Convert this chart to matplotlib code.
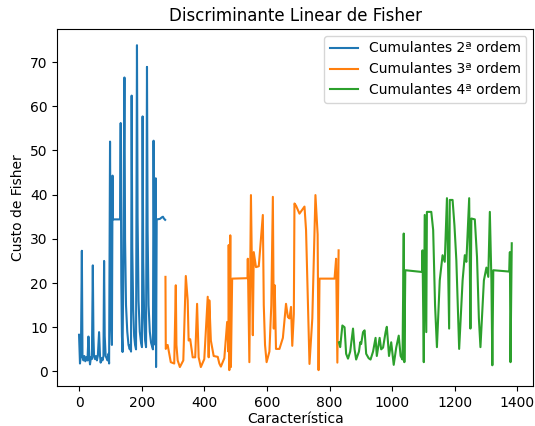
import matplotlib
matplotlib.use("Agg")
import matplotlib.pyplot as plt

blue_x = [0, 3, 6, 9, 11, 14, 17, 20, 24, 27, 30, 33, 35, 38, 41, 44, 46, 48, 51, 54, 57, 60, 64, 67, 69, 72, 75, 78,
          80, 82, 85, 88, 91, 94, 96, 99, 101, 103, 105, 107, 108, 131, 133, 135, 137, 139, 141, 143, 145, 147, 150,
          154, 158, 162, 164, 166, 168, 170, 173, 176, 179, 182, 185, 187, 190, 194, 198, 201, 203, 205, 208, 211,
          214, 217, 219, 222, 226, 230, 234, 236, 238, 240, 242, 244, 245, 246, 248, 258, 265, 268, 271, 275]
blue_y = [8.3, 1.8, 4, 27.3, 3.3, 2.5, 3.5, 2.3, 3.2, 2.5, 7.9, 3, 1.6, 3.2, 2.8, 24, 8, 3.3, 2.8, 3.5, 2.5, 3.5, 8.9,
          3.5, 2, 3, 2.5, 3.5, 25, 8, 3.5, 3, 2.5, 4, 1.8, 52, 20, 10, 6, 44.3, 34.4, 34.4, 56.2, 20, 8, 4.4, 20,
          45, 66.5, 30, 15, 9, 6, 5, 6, 4.5, 62.4, 28, 14, 8, 6, 5, 73.8, 35, 16, 9, 6.5, 5.5, 57.7, 25, 12, 7, 5.5,
          68.9, 32, 15, 9, 6.5, 5.5, 5, 52.2, 25, 12, 6, 43.7, 1, 34.4, 34.5, 34.9, 35.0, 34.6, 34.3]

orange_x = [276, 277, 283, 293, 304, 309, 311, 315, 322, 333, 341, 347, 350, 355, 363, 371, 377, 382, 389, 400, 411,
            414, 416, 421, 430, 443, 448, 453, 464, 473, 477, 478, 480, 483, 485, 489, 538, 539, 544, 549, 555, 558,
            565, 574, 587, 590, 594, 599, 608, 614, 619, 622, 625, 629, 640, 651, 661, 667, 672, 677, 681, 686, 688,
            693, 704, 712, 720, 725, 736, 745, 755, 762, 765, 768, 816, 821, 825, 829]
orange_y = [21.4, 5.1, 6, 2.1, 1.8, 19.5, 6, 2.5, 1, 2.5, 21.6, 16.1, 7, 7.3, 3.2, 3.2, 15.3, 3.2, 1, 2.8, 16.9,
            3.2, 16.1, 7, 3.5, 3.3, 1.8, 1.1, 3, 11.2, 4.5, 28.6, 0.3, 30.8, 1, 21, 21.1, 25.5, 2.1, 39.9, 8.2, 27,
            23.6, 23.8, 35.4, 15, 6, 2.1, 4.5, 15, 39.5, 9.7, 19.5, 5.1, 5.1, 7.6, 15.3, 12.3, 12, 14.6, 5.8, 13, 38,
            37.5, 35.7, 36.5, 37.3, 32, 1.7, 12, 39.9, 31, 0.3, 21, 21, 25.5, 2, 27.4]

green_x = [830, 834, 841, 848, 853, 859, 866, 875, 880, 885, 894, 898, 901, 907, 912, 917, 925, 931, 939, 947, 951,
           960, 965, 971, 979, 983, 990, 997, 1005, 1013, 1021, 1027, 1033, 1037, 1039, 1042, 1096, 1097, 1101, 1104,
           1109, 1111, 1125, 1131, 1137, 1143, 1152, 1161, 1168, 1175, 1182, 1184, 1193, 1199, 1205, 1214, 1225,
           1232, 1237, 1246, 1250, 1253, 1264, 1271, 1277, 1282, 1293, 1301, 1307, 1312, 1317, 1320, 1323, 1374,
           1376, 1378, 1382]
green_y = [6.6, 5.5, 10.4, 10, 4, 2.9, 4.5, 9.7, 5, 2.7, 4.5, 6.6, 6.2, 8.9, 9.3, 4, 3, 2.7, 4.5, 7.6, 3.5, 7.6, 5,
           5.4, 8.9, 10.1, 3.5, 6.6, 1.5, 5.4, 8.1, 3.5, 2.7, 31.2, 2.1, 22.9, 22.5, 27.4, 2.1, 35.4, 8.9, 36.1,
           36.1, 32, 15, 5.5, 20.6, 26.3, 24.8, 39.2, 9.7, 38.8, 38.8, 33, 25.2, 5.1, 20.6, 26.3, 24.8, 39.2, 9.7,
           34.6, 34.4, 25.9, 12, 5.5, 20.6, 23.5, 21.4, 36.1, 20.6, 1.4, 22.9, 22.6, 27, 2.1, 29]

labels = ["Cumulantes 2ª ordem", "Cumulantes 3ª ordem", "Cumulantes 4ª ordem"]

fig = plt.figure(figsize=(5.35, 4.26), dpi=100)
ax = fig.add_axes([0.1073, 0.093, 0.8897, 0.839])
ax.plot(blue_x, blue_y, color="C0", label=labels[0])
ax.plot(orange_x, orange_y, color="C1", label=labels[1])
ax.plot(green_x, green_y, color="C2", label=labels[2])
ax.set_title("Discriminante Linear de Fisher")
ax.set_xlabel("Característica", labelpad=1.5)
ax.set_ylabel("Custo de Fisher")
ax.legend(loc="upper right")
fig.savefig("out.png", dpi=100)
